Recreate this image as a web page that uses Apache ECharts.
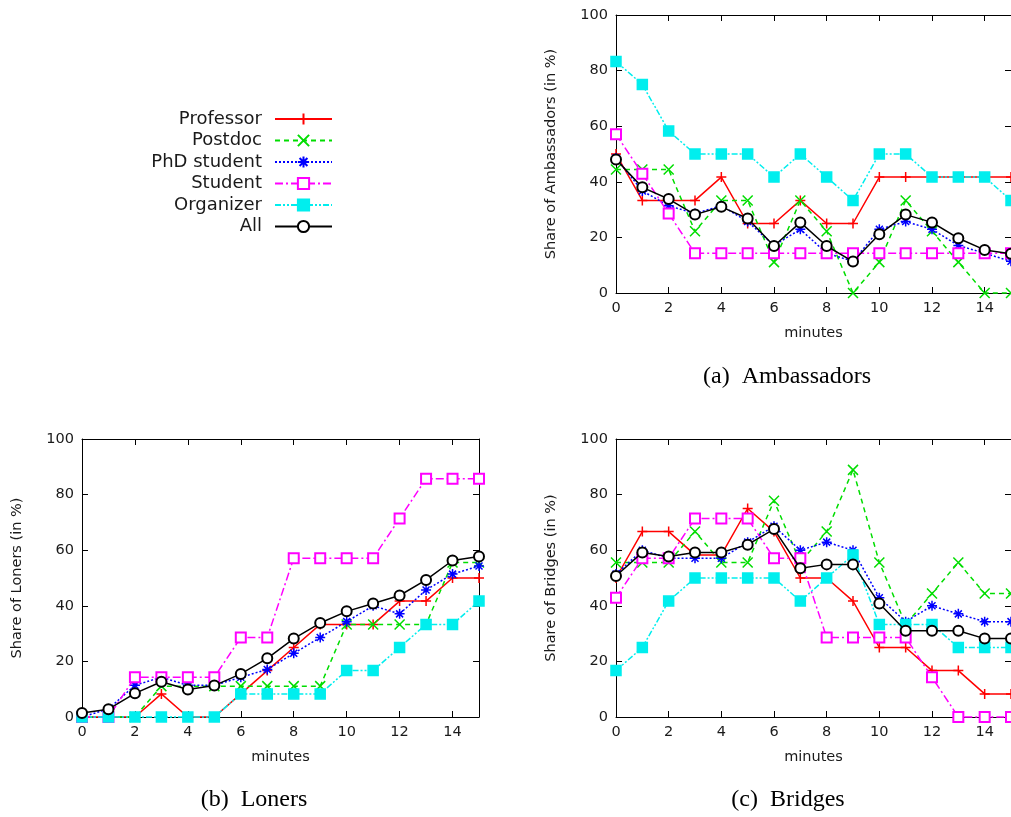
<!DOCTYPE html>
<html>
<head>
<meta charset="utf-8">
<script src="https://cdn.jsdelivr.net/npm/echarts@6/dist/echarts.min.js"></script>
<style>
html,body{margin:0;padding:0;background:#fff;}
#chart{width:1011px;height:817px;}
</style>
</head>
<body>
<div id="chart"></div>
<script>
// ---------- data ----------
const minutes = [0,1,2,3,4,5,6,7,8,9,10,11,12,13,14,15];
const seriesNames = ['Professor','Postdoc','PhD student','Student','Organizer','All'];
const panelTitles = ['(a)  Ambassadors','(b)  Loners','(c)  Bridges'];
const yAxisNames = ['Share of Ambassadors (in %)','Share of Loners (in %)','Share of Bridges (in %)'];
const xAxisName = 'minutes';

// (a) Ambassadors
const ambProfessor = [50,33.3,33.3,33.3,41.7,25,25,33.3,25,25,41.7,41.7,41.7,41.7,41.7,41.7];
const ambPostdoc   = [44.4,44.4,44.4,22.2,33.3,33.3,11.1,33.3,22.2,0,11.1,33.3,22.2,11.1,0,0];
const ambPhD       = [48.6,36.7,31.4,28.6,31.4,25.7,17.1,22.9,14.3,11.4,22.9,25.7,22.9,17.1,14.3,11.4];
const ambStudent   = [57.1,42.9,28.6,14.3,14.3,14.3,14.3,14.3,14.3,14.3,14.3,14.3,14.3,14.3,14.3,14.3];
const ambOrganizer = [83.3,75,58.3,50,50,50,41.7,50,41.7,33.3,50,50,41.7,41.7,41.7,33.3];
const ambAll       = [48,38,33.8,28.2,31,26.8,16.9,25.4,16.9,11.3,21.1,28.2,25.4,19.7,15.5,14.1];

// (b) Loners
const lonProfessor = [0,0,0,8.3,0,0,8.3,16.7,25,33.3,33.3,33.3,41.7,41.7,50,50];
const lonPostdoc   = [0,0,0,11.1,11.1,11.1,11.1,11.1,11.1,11.1,33.3,33.3,33.3,33.3,55.6,55.6];
const lonPhD       = [0,2.9,11.4,14.3,11.4,11.4,14.3,17.1,22.9,28.6,34.3,40,37.1,45.7,51.4,54.3];
const lonStudent   = [0,0,14.3,14.3,14.3,14.3,28.6,28.6,57.1,57.1,57.1,57.1,71.4,85.7,85.7,85.7];
const lonOrganizer = [0,0,0,0,0,0,8.3,8.3,8.3,8.3,16.7,16.7,25,33.3,33.3,41.7];
const lonAll       = [1.4,2.8,8.5,12.7,9.9,11.3,15.5,21.1,28.2,33.8,38,40.8,43.7,49.3,56.3,57.7];

// (c) Bridges
const briProfessor = [50,66.7,66.7,58.3,58.3,75,66.7,50,50,41.7,25,25,16.7,16.7,8.3,8.3];
const briPostdoc   = [55.6,55.6,55.6,66.7,55.6,55.6,77.8,55.6,66.7,88.9,55.6,33.3,44.4,55.6,44.4,44.4];
const briPhD       = [51.4,60,57.1,57.1,57.1,62.9,68.6,60,62.9,60,42.9,34.3,40,37.1,34.3,34.3];
const briStudent   = [42.9,57.1,57.1,71.4,71.4,71.4,57.1,57.1,28.6,28.6,28.6,28.6,14.3,0,0,0];
const briOrganizer = [16.7,25,41.7,50,50,50,50,41.7,50,58.3,33.3,33.3,33.3,25,25,25];
const briAll       = [50.7,59.2,57.7,59.2,59.2,62,67.6,53.5,54.9,54.9,40.8,31,31,31,28.2,28.2];

const yTicks = [0,20,40,60,80,100];
const xTickStep = 2;

// ---------- styling ----------
const panels = [
  [ambProfessor, ambPostdoc, ambPhD, ambStudent, ambOrganizer, ambAll],
  [lonProfessor, lonPostdoc, lonPhD, lonStudent, lonOrganizer, lonAll],
  [briProfessor, briPostdoc, briPhD, briStudent, briOrganizer, briAll]
];
const styles = [
  {color:'#ff0000', type:'solid', symbol:'path://M0,5L10,5M5,0L5,10'},
  {color:'#00dd00', type:[5,4], symbol:'path://M0,0L10,10M10,0L0,10'},
  {color:'#0000ff', type:[2,2], symbol:'path://M0,5L10,5M5,0L5,10M1.5,1.5L8.5,8.5M8.5,1.5L1.5,8.5'},
  {color:'#ff00ff', type:[8,3,2,3], symbol:'emptyRect'},
  {color:'#00eeee', type:[6,2,2,2,2,2], symbol:'rect'},
  {color:'#000000', type:'solid', symbol:'emptyCircle'}
];
const grids = [
  {left:616, top:15, width:396, height:278},
  {left:82, top:439, width:397, height:278},
  {left:616, top:439, width:396, height:278}
];
const FONT = 'DejaVu Sans';
const textColor = '#1a1a1a';

const xAxes = [], yAxes = [], series = [];
grids.forEach((g, gi) => {
  xAxes.push({
    gridIndex: gi, type:'value', min:0, max:15, interval:xTickStep, position:'bottom',
    name: xAxisName, nameLocation:'middle', nameGap:33,
    nameTextStyle:{fontFamily:FONT, fontSize:14.5, color:textColor},
    axisLine:{show:true, onZero:false, lineStyle:{color:'#000', width:1}},
    axisTick:{show:true, inside:true, length:6, lineStyle:{color:'#000'}},
    axisLabel:{fontFamily:FONT, fontSize:14.5, color:textColor, margin:8, showMaxLabel:false},
    splitLine:{show:false}
  });
  xAxes.push({
    gridIndex: gi, type:'value', min:0, max:15, interval:xTickStep, position:'top',
    axisLine:{show:true, onZero:false, lineStyle:{color:'#000', width:1}},
    axisTick:{show:true, inside:true, length:6, lineStyle:{color:'#000'}},
    axisLabel:{show:false}, splitLine:{show:false}
  });
  yAxes.push({
    gridIndex: gi, type:'value', min:yTicks[0], max:yTicks[yTicks.length-1], interval:yTicks[1]-yTicks[0], position:'left',
    name: yAxisNames[gi], nameLocation:'middle', nameGap:57, nameRotate:90,
    nameTextStyle:{fontFamily:FONT, fontSize:14.5, color:textColor},
    axisLine:{show:true, onZero:false, lineStyle:{color:'#000', width:1}},
    axisTick:{show:true, inside:true, length:6, lineStyle:{color:'#000'}},
    axisLabel:{fontFamily:FONT, fontSize:14.5, color:textColor, margin:8},
    splitLine:{show:false}
  });
  yAxes.push({
    gridIndex: gi, type:'value', min:yTicks[0], max:yTicks[yTicks.length-1], interval:yTicks[1]-yTicks[0], position:'right',
    axisLine:{show:true, onZero:false, lineStyle:{color:'#000', width:1}},
    axisTick:{show:true, inside:true, length:6, lineStyle:{color:'#000'}},
    axisLabel:{show:false}, splitLine:{show:false}
  });
  panels[gi].forEach((vals, si) => {
    const st = styles[si];
    series.push({
      type:'line', name: seriesNames[si],
      xAxisIndex: gi*2, yAxisIndex: gi*2,
      data: minutes.map((m, i) => [m, vals[i]]),
      symbol: st.symbol, symbolSize: 10,
      showAllSymbol:true, clip:false,
      lineStyle:{color:st.color, width:1.5, type:st.type},
      itemStyle:{color: st.color, borderColor: st.color, borderWidth: 1.5},
      emphasis:{disabled:true},
      animation:false, z: 2 + si
    });
  });
});

const option = {
  backgroundColor:'#ffffff',
  animation:false,
  grid: grids.map(g => Object.assign({containLabel:false}, g)),
  xAxis: xAxes,
  yAxis: yAxes,
  legend: {
    data: seriesNames,
    orient:'vertical', align:'right',
    right: 678, top: 110,
    padding: 0,
    itemWidth: 57, itemHeight: 14, itemGap: 3.5,
    textStyle:{fontFamily:FONT, fontSize:18, color:textColor, padding:[0,8,0,0]},
    selectedMode:false
  },
  title: panelTitles.map((t, i) => ({
    text: t,
    left: [787, 254, 788][i], top: [377, 800, 800][i],
    textAlign:'center', textVerticalAlign:'middle',
    padding:0,
    textStyle:{fontFamily:'Liberation Serif', fontSize:24, fontWeight:'normal', color:'#000'}
  })),
  series: series
};

const chart = echarts.init(document.getElementById('chart'), null, {renderer:'canvas'});
chart.setOption(option);
</script>
</body>
</html>
